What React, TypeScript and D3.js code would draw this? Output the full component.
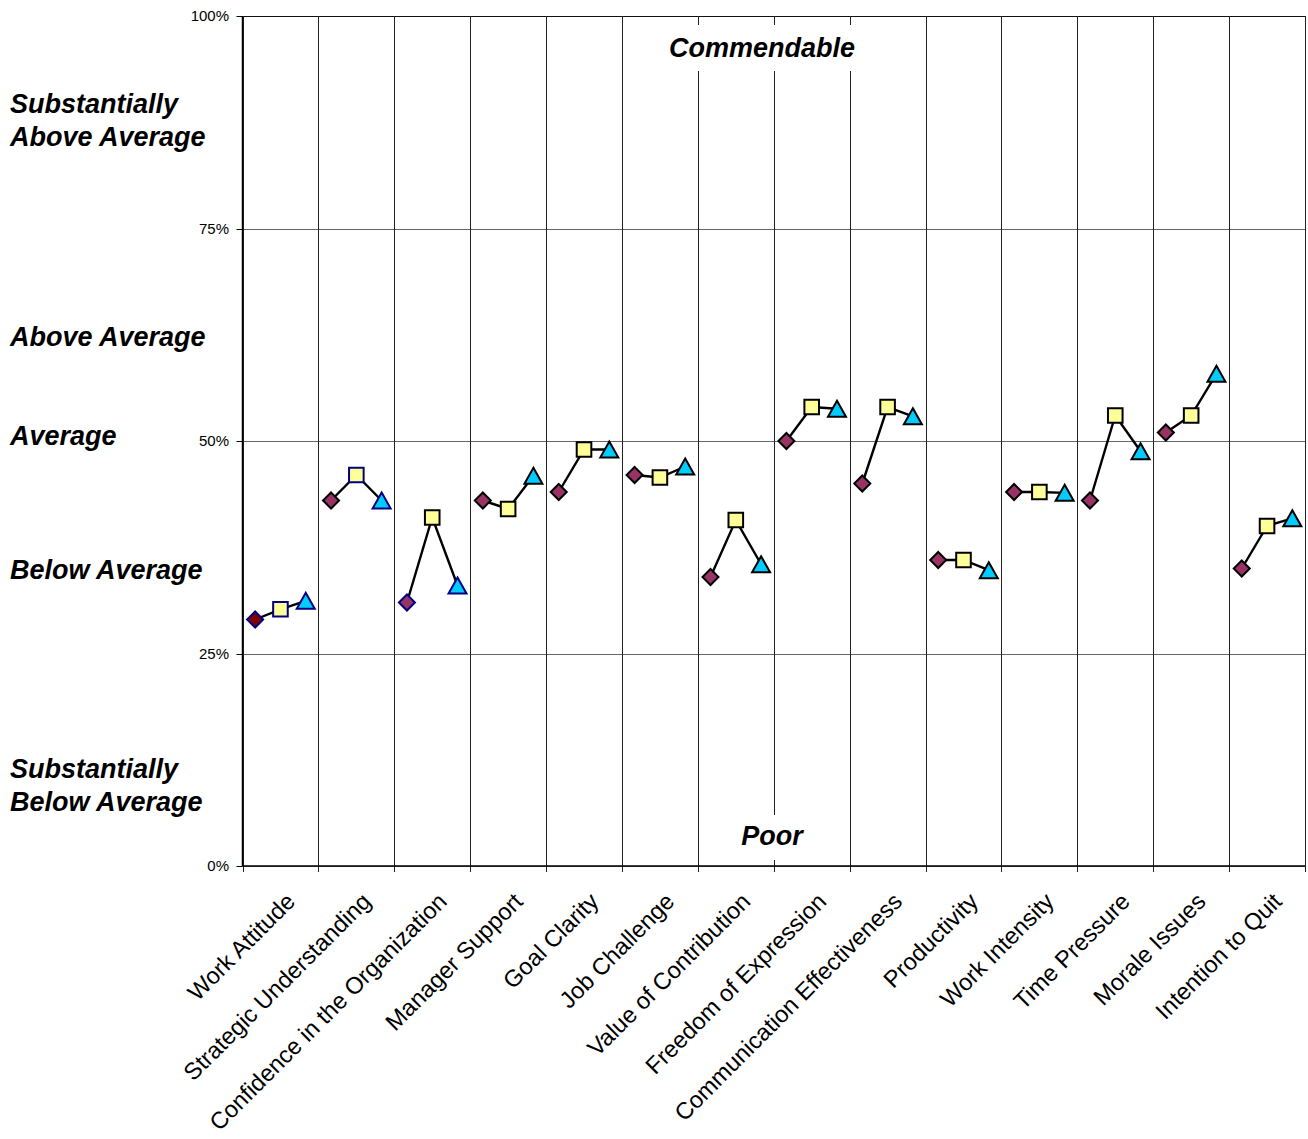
import React from "react";
import * as d3 from "d3";

// Survey dimensions shown along the x axis
const categories = [
  "Work Attitude",
  "Strategic Understanding",
  "Confidence in the Organization",
  "Manager Support",
  "Goal Clarity",
  "Job Challenge",
  "Value of Contribution",
  "Freedom of Expression",
  "Communication Effectiveness",
  "Productivity",
  "Work Intensity",
  "Time Pressure",
  "Morale Issues",
  "Intention to Quit",
];

// Three measurements per dimension (percent scores)
const diamondValues = [29, 43, 31, 43, 44, 46, 34, 50, 45, 36, 44, 43, 51, 35];
const squareValues = [30.2, 46, 41, 42, 49, 45.7, 40.7, 54, 54, 36, 44, 53, 53, 40];
const triangleValues = [31.2, 43, 33, 45.9, 49, 47, 35.5, 53.8, 52.9, 34.8, 43.9, 48.8, 57.9, 40.9];

const yTicks = [0, 25, 50, 75, 100];

const W = 1308;
const H = 1139;
const plot = { left: 242.5, right: 1305, top: 16, bottom: 866 };

const FONT = "'Liberation Sans', Arial, Helvetica, sans-serif";

const seriesStyle = [
  { shape: "diamond", fill: "#993366" },
  { shape: "square", fill: "#FFFF99" },
  { shape: "triangle", fill: "#00CCFF" },
];

// A few markers are outlined in navy, one diamond filled dark red
const navyEdges = new Set(["0-0", "0-1", "0-2", "1-1", "1-2", "2-0", "2-2"]);
const specialFill: Record<string, string> = { "0-0": "#800000" };

function markerPath(shape: string, cx: number, cy: number): string {
  const p = d3.path();
  if (shape === "diamond") {
    const r = 8;
    p.moveTo(cx, cy - r);
    p.lineTo(cx + r, cy);
    p.lineTo(cx, cy + r);
    p.lineTo(cx - r, cy);
    p.closePath();
  } else if (shape === "square") {
    const r = 7.3;
    p.rect(cx - r, cy - r, 2 * r, 2 * r);
  } else {
    const hw = 9;
    const hh = 8;
    p.moveTo(cx, cy - hh);
    p.lineTo(cx + hw, cy + hh);
    p.lineTo(cx - hw, cy + hh);
    p.closePath();
  }
  return p.toString();
}

const leftLabels = [
  { lines: ["Substantially", "Above Average"], y: 113 },
  { lines: ["Above Average"], y: 346 },
  { lines: ["Average"], y: 445 },
  { lines: ["Below Average"], y: 579 },
  { lines: ["Substantially", "Below Average"], y: 778 },
];

export default function App() {
  const x = d3
    .scaleBand<string>()
    .domain(categories)
    .range([plot.left, plot.right])
    .paddingInner(0)
    .paddingOuter(0);
  const y = d3.scaleLinear().domain([0, 100]).range([plot.bottom, plot.top]);
  const bw = x.bandwidth();
  const inner = d3
    .scalePoint<number>()
    .domain([0, 1, 2])
    .range([bw / 6, (bw * 5) / 6]);

  const allSeries = [diamondValues, squareValues, triangleValues];
  const line = d3
    .line<[number, number]>()
    .x((d) => d[0])
    .y((d) => d[1]);

  const boundaries = categories.map((c) => x(c) as number).concat([plot.right]);

  return (
    <svg
      width={W}
      height={H}
      style={{ position: "absolute", left: 0, top: 0, background: "#fff" }}
      fontFamily={FONT}
    >
      <rect x={0} y={0} width={W} height={H} fill="#fff" />

      {/* horizontal gridlines */}
      {yTicks.map((t) => (
        <line
          key={"g" + t}
          x1={plot.left}
          x2={plot.right}
          y1={Math.round(y(t)) + 0.5}
          y2={Math.round(y(t)) + 0.5}
          stroke={t === 100 ? "#111" : "#666"}
          strokeWidth={1}
        />
      ))}

      {/* vertical category separators */}
      {boundaries.map((bx, i) => (
        <line
          key={"v" + i}
          x1={Math.round(bx) + 0.5}
          x2={Math.round(bx) + 0.5}
          y1={plot.top}
          y2={plot.bottom + 6}
          stroke="#222"
          strokeWidth={1}
        />
      ))}

      {/* axes */}
      <line x1={plot.left} x2={plot.left} y1={plot.top} y2={plot.bottom} stroke="#000" strokeWidth={1.5} />
      <line x1={plot.left} x2={plot.right} y1={plot.bottom} y2={plot.bottom} stroke="#000" strokeWidth={1.5} />

      {/* y ticks and labels */}
      {yTicks.map((t) => (
        <g key={"t" + t}>
          <line
            x1={plot.left - 6}
            x2={plot.left}
            y1={Math.round(y(t)) + 0.5}
            y2={Math.round(y(t)) + 0.5}
            stroke="#000"
          />
          <text x={229} y={y(t) + 5} fontSize={15} textAnchor="end" fill="#000">
            {t}%
          </text>
        </g>
      ))}

      {/* band annotations on the left */}
      {leftLabels.map((l, i) => (
        <text key={"l" + i} fontSize={27} fontWeight="bold" fontStyle="italic" fill="#000">
          {l.lines.map((s, j) => (
            <tspan key={j} x={10} y={l.y + j * 33}>
              {s}
            </tspan>
          ))}
        </text>
      ))}

      {/* Commendable / Poor labels with white backing */}
      <rect x={664} y={25} width={192} height={46} fill="#fff" />
      <text x={762} y={57} fontSize={27} fontWeight="bold" fontStyle="italic" textAnchor="middle" fill="#000">
        Commendable
      </text>
      <rect x={735} y={815} width={74} height={45} fill="#fff" />
      <text x={772} y={845} fontSize={27} fontWeight="bold" fontStyle="italic" textAnchor="middle" fill="#000">
        Poor
      </text>

      {/* connecting lines per category */}
      {categories.map((c, i) => {
        const pts: [number, number][] = allSeries.map((s, k) => [
          (x(c) as number) + (inner(k) as number),
          y(s[i]),
        ]);
        return (
          <path key={"ln" + i} d={line(pts) || ""} fill="none" stroke="#000" strokeWidth={2.4} />
        );
      })}

      {/* markers */}
      {categories.map((c, i) =>
        allSeries.map((s, k) => {
          const key = `${i}-${k}`;
          const cx = (x(c) as number) + (inner(k) as number);
          const cy = y(s[i]);
          return (
            <path
              key={"m" + key}
              d={markerPath(seriesStyle[k].shape, cx, cy)}
              fill={specialFill[key] || seriesStyle[k].fill}
              stroke={navyEdges.has(key) ? "#000080" : "#000"}
              strokeWidth={2}
              strokeLinejoin="miter"
            />
          );
        })
      )}

      {/* x axis category labels */}
      {categories.map((c) => {
        const px = (x(c) as number) + bw / 2 + 16;
        const py = 903;
        return (
          <text
            key={"x" + c}
            transform={`translate(${px},${py}) rotate(-45)`}
            fontSize={23.6}
            textAnchor="end"
            fill="#000"
          >
            {c}
          </text>
        );
      })}
    </svg>
  );
}
